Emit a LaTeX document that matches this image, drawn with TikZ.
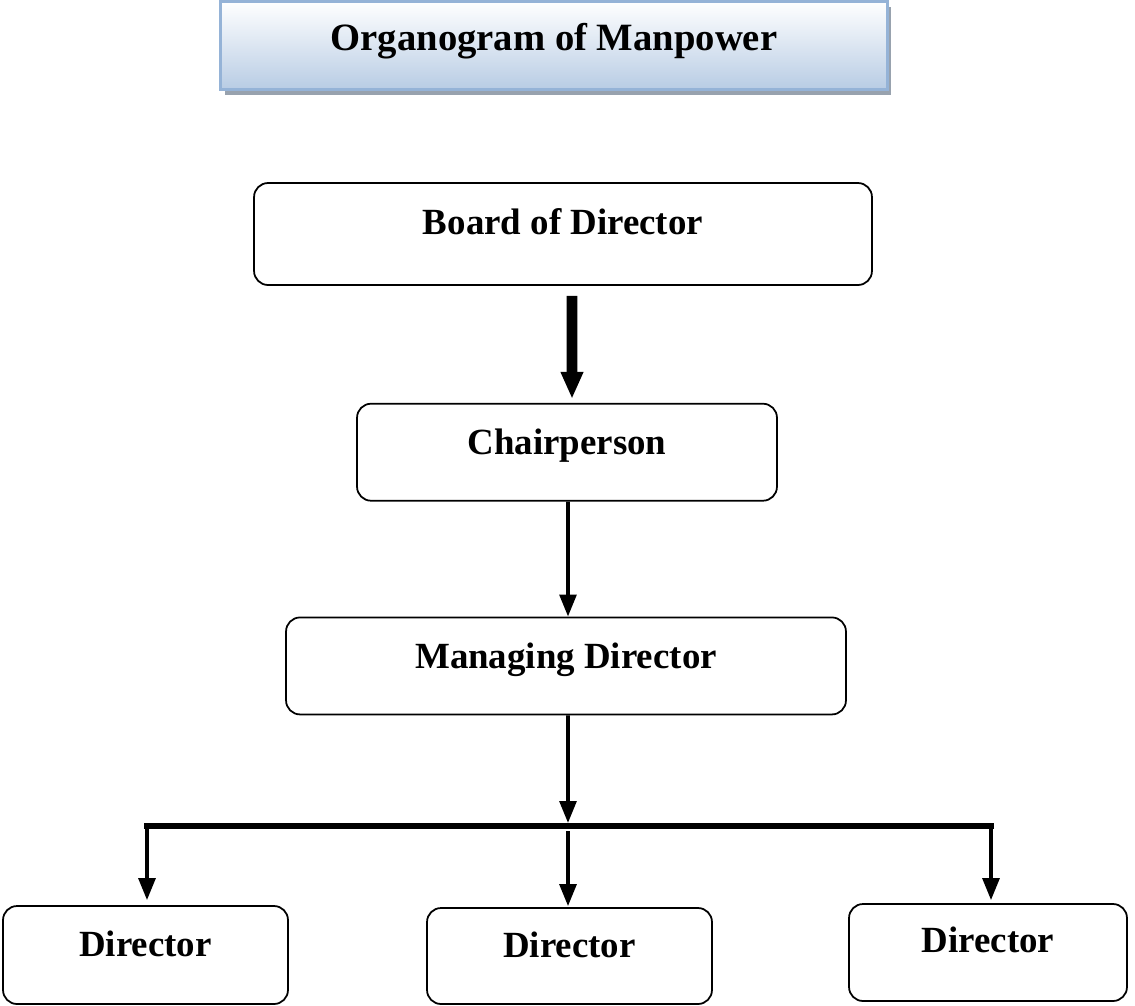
\documentclass[tikz,border=0pt]{standalone}
\usepackage{fontspec}
\setmainfont{Liberation Serif}
\usetikzlibrary{positioning,arrows.meta,calc,shadows}
\definecolor{hdline}{HTML}{95B3D7}
\definecolor{hdfill}{HTML}{B8CCE4}
\definecolor{hdshade}{HTML}{98A2AE}

\begin{document}
\begin{tikzpicture}[x=0.02cm,y=-0.02cm,
  font=\fontsize{21}{25}\selectfont\bfseries,
  post/.style={draw=black,line width=1pt,rounded corners=0.28cm,align=center,inner sep=0pt,
               text height=14pt,text depth=11pt},
  head/.style={draw=hdline,line width=1.7pt,top color=white,bottom color=hdfill,inner sep=0pt,
               minimum width=13.34cm,minimum height=1.76cm,text height=14pt,text depth=8pt,
               font=\fontsize{22}{26}\selectfont\bfseries,
               drop shadow={shadow xshift=2.3pt,shadow yshift=-3.4pt,fill=hdshade,opacity=1}},
  fat/.style={-{Triangle[length=15.3pt,width=11.9pt]},line width=6.2pt},
  a/.style={-{Triangle[length=12.5pt,width=9.5pt]},line width=2.1pt},
  busline/.style={line width=3.4pt,line cap=rect}]
\useasboundingbox (0,0) rectangle (1135,1005);
% title
\node[head] (title) at (554,45.5) {Organogram of Manpower};
% chain
\node[post,minimum width=12.36cm,minimum height=2.04cm,text depth=14pt] (board) at (563,234) {Board of Director};
\node[post,minimum width=8.4cm,minimum height=1.94cm,below=2.34cm of board,xshift=0.08cm] (chair) {Chairperson};
\node[post,minimum width=11.2cm,minimum height=1.94cm,below=2.3cm of chair,xshift=-0.02cm] (md) {Managing Director};
% directors
\node[post,minimum width=5.7cm,minimum height=1.96cm,text depth=12pt] (dl) at (145.5,955) {Director};
\node[post,minimum width=5.7cm,minimum height=1.92cm,text depth=12pt] (dm) at (569.5,956) {Director};
\node[post,minimum width=5.56cm,minimum height=1.94cm,text depth=14pt] (dr) at (988,952.5) {Director};
% connectors
\draw[fat,shorten <=0.2cm,shorten >=0.08cm] ([xshift=0.18cm]board.south) -- ([xshift=0.1cm]chair.north);
\draw[a] ([xshift=0.02cm]chair.south) -- ([xshift=0.04cm]md.north);
\coordinate (bus) at (568,826);
\coordinate (busL) at (147,826);
\coordinate (busR) at (991,826);
\draw[a,shorten >=1.7pt] ([xshift=0.04cm]md.south) -- (bus);
\draw[busline] (busL) -- (busR);
\draw[a,shorten <=1.7pt,shorten >=0.1cm] (busL) -- (busL |- dl.north);
\draw[a,shorten <=3pt,shorten >=0.02cm] (bus) -- (bus |- dm.north);
\draw[a,shorten <=1.7pt,shorten >=0.06cm] (busR) -- (busR |- dr.north);
\end{tikzpicture}
\end{document}
